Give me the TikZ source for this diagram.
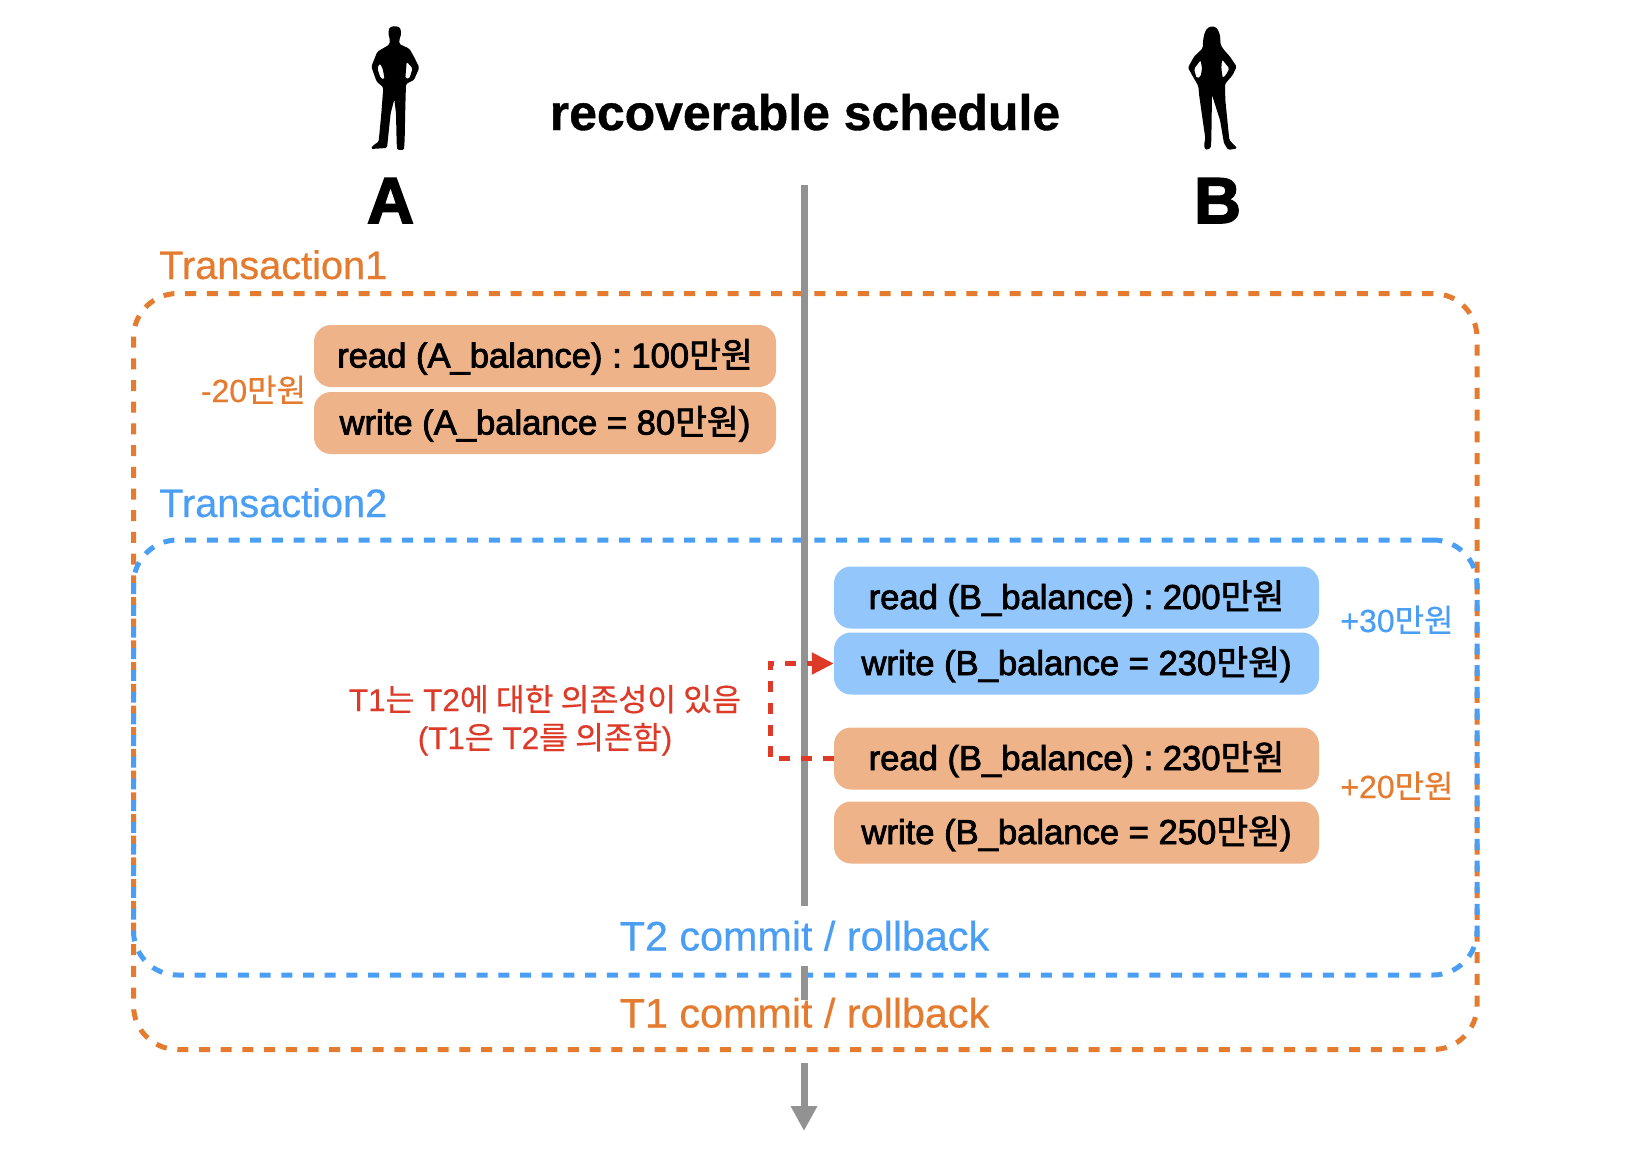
\documentclass[tikz,border=0pt]{standalone}
\usepackage{fontspec}
\usetikzlibrary{arrows.meta}
\setmainfont[FakeBold=0.4]{Liberation Sans}
\newfontfamily\krf[FakeBold=0.4]{Noto Sans CJK KR}
\newfontfamily\hmed[FakeBold=2.4]{Liberation Sans}
\newfontfamily\kmed[FakeBold=2]{Noto Sans CJK KR}
\newfontfamily\hbold[FakeBold=0.8]{Liberation Sans Bold}
\newfontfamily\hheavy[FakeBold=2.6]{Liberation Sans Bold}
\newcommand\fsz[1]{\fontsize{#1}{#1}\selectfont}
\definecolor{corange}{HTML}{E57B2F}
\definecolor{cblue}{HTML}{4A9FF5}
\definecolor{cred}{HTML}{DD3A28}
\definecolor{cgray}{HTML}{929292}
\definecolor{boxo}{HTML}{EFB389}
\definecolor{boxb}{HTML}{93C6FA}
\tikzset{
  x=1pt,y=-1pt,
  pill/.style={rectangle,rounded corners=17pt,inner sep=0pt,text=black,font=\fsz{34.6}\hmed\frenchspacing,
     minimum height=62pt,text height=30pt,text depth=7pt},
  opill/.style={pill,fill=boxo},
  bpill/.style={pill,fill=boxb},
  frame/.style={rectangle,rounded corners=44pt,inner sep=0pt,line width=5pt,dash pattern=on 11pt off 10.7pt},
  label/.style={inner sep=0pt,anchor=base,align=center},
  spine/.style={draw=cgray,line width=7pt},
  dep/.style={draw=cred,line width=5pt,dash pattern=on 11pt off 10.7pt},
  person/.style={fill=black,rounded corners=1.5pt,even odd rule},
}
\begin{document}
\begin{tikzpicture}
\useasboundingbox (0,0) rectangle (1626,1160);
\fill[white] (0,0) rectangle (1626,1160);
% transaction frames
\node (t1frame) [frame,draw=corange,minimum width=1343.5pt,minimum height=756pt] at (805.25,671.5) {};
\node (t2frame) [frame,draw=cblue,minimum width=1343.5pt,minimum height=435pt] at (805.25,757.5) {};
% time axis
\coordinate (s0) at (804,185);
\coordinate (s1) at (804,906);
\coordinate (s2) at (804,966);
\coordinate (s3) at (804,1000);
\coordinate (s4) at (804,1063);
\coordinate (s5) at (804,1131);
\draw[spine] (s0) -- (s1);
\draw[spine] (s2) -- (s3);
\draw[spine,-{Triangle[length=25pt,width=25pt]}] (s4) -- (s5);
% people
\begin{scope}[shift={(340,0)},x=0.3333pt,y=-0.3333pt]
\path[person]
 (148,82) -- (164,78) -- (180,82) -- (184,100) -- (178,120) -- (178,132) -- (208,146) -- (222,170) -- (238,203) -- (222,240) -- (198,252)
 -- (196,320) -- (194,420) -- (192,450) -- (172,450) -- (170,430) -- (168,340) -- (163,298) -- (152,340) -- (141,444) -- (93,447) -- (97,438) -- (116,425) -- (124,340) -- (130,262) -- (110,245) -- (94,200) -- (112,155) -- (148,134) -- (150,120) -- (145,100) -- cycle
 (119,190) -- (112,205) -- (122,235) -- (134,238) -- (128,205) -- cycle
 (200,185) -- (196,235) -- (208,236) -- (218,205) -- cycle;
\end{scope}
\begin{scope}[shift={(1170,0)},x=0.3333pt,y=-0.3333pt]
\path[person]
 (112,84) -- (128,78) -- (142,85) -- (150,105) -- (152,135) -- (162,150) -- (180,170) -- (200,200) -- (188,225) -- (165,252)
 -- (166,300) -- (178,420) -- (202,445) -- (175,450) -- (162,430) -- (150,360) -- (126,285) -- (124,420) -- (122,445) -- (106,450) -- (102,435) -- (106,415) -- (88,290) -- (85,258) -- (66,225) -- (54,203) -- (72,170) -- (98,145) -- (100,115) -- (104,98) -- cycle
 (92,180) -- (72,207) -- (80,235) -- (92,230) -- (96,205) -- cycle
 (156,178) -- (154,205) -- (158,234) -- (168,225) -- (178,205) -- cycle;
\end{scope}
% labels
\node (title) [label,font=\fsz{49.9}\hbold] at (805,130) {recoverable schedule};
\node (nameA) [label,font=\fsz{65}\hheavy] at (390.5,223) {A};
\node (nameB) [label,font=\fsz{65}\hheavy] at (1217.5,223) {B};
\node (t1label) [label,anchor=base west,text=corange,font=\fsz{39.7}] at (159,279) {Transaction1};
\node (t2label) [label,anchor=base west,text=cblue,font=\fsz{39.7}] at (159,517) {Transaction2};
% operations
\node (readA) [opill,minimum width=462pt] at (545,356) {read (A\_balance) : 100{\kmed 만원}};
\node (writeA) [opill,minimum width=462pt] at (545,423) {write (A\_balance = 80{\kmed 만원})};
\node (readB) [bpill,minimum width=485pt] at (1076.5,597.5) {read (B\_balance) : 200{\kmed 만원}};
\node (writeB) [bpill,minimum width=485pt] at (1076.5,663.5) {write (B\_balance = 230{\kmed 만원})};
\node (readBb) [opill,minimum width=485pt] at (1076.5,758.5) {read (B\_balance) : 230{\kmed 만원}};
\node (writeBb) [opill,minimum width=485pt] at (1076.5,832.5) {write (B\_balance = 250{\kmed 만원})};
% amounts
\node (minus20) [label,text=corange,font=\fsz{32}] at (253.5,402) {-20{\krf 만원}};
\node (plus30) [label,text=cblue,font=\fsz{32}] at (1397,632) {+30{\krf 만원}};
\node (plus20) [label,text=corange,font=\fsz{32}] at (1397,798) {+20{\krf 만원}};
% dependency
\coordinate (bend) at (770,758.5);
\draw[dep,-{Triangle[length=22pt,width=21pt]}] (readBb.west) -- (bend) |- (writeB.west);
\node (dep1) [label,text=cred,font=\fsz{31.4}] at (545,711) {T1{\krf 는} T2{\krf 에 대한 의존성이 있음}};
\node (dep2) [label,text=cred,font=\fsz{31.4}] at (545,749) {(T1{\krf 은} T2{\krf 를 의존함})};
% commits
\node (t2commit) [label,text=cblue,font=\fsz{41.3}] at (804.5,950.5) {T2 commit / rollback};
\node (t1commit) [label,text=corange,font=\fsz{41.3}] at (804.5,1027.5) {T1 commit / rollback};
\end{tikzpicture}
\end{document}
